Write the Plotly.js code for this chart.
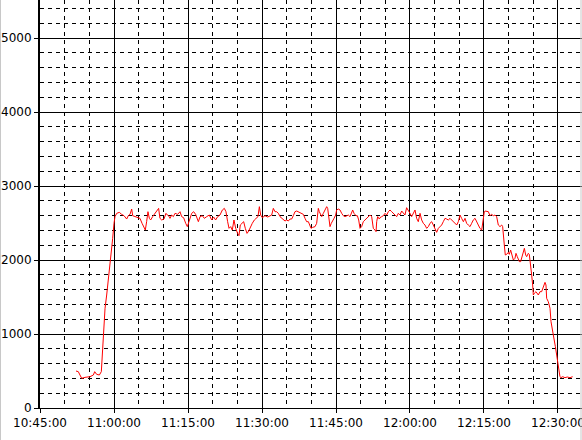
<!DOCTYPE html>
<html>
<head>
<meta charset="utf-8">
<script src="https://cdn.plot.ly/plotly-3.0.1.min.js"></script>
<style>html,body{margin:0;padding:0;background:#fff;}#chart{width:582px;height:440px;}</style>
</head>
<body>
<div id="chart"></div>
<script>
const day = '2000-01-01 ';
const times = [
'10:52:18','10:52:46','10:53:06','10:53:27','10:54:07','10:55:08','10:55:49','10:56:05','10:56:29','10:57:02',
'10:57:26','10:57:38','10:57:50','10:58:11','10:58:31','10:59:03','10:59:24','10:59:44','11:00:00','11:00:12',
'11:00:33','11:01:05','11:01:33','11:02:02','11:02:34','11:02:54','11:03:15','11:03:35','11:03:47','11:04:15',
'11:04:44','11:05:16','11:05:41','11:06:05','11:06:21','11:06:37','11:06:53','11:07:10','11:07:26','11:07:50',
'11:08:19','11:08:47','11:09:03','11:09:19','11:09:40','11:10:08','11:10:32','11:10:49','11:11:13',
'11:11:21','11:11:41','11:12:02','11:12:22','11:12:54','11:13:23','11:13:43','11:14:07','11:14:32','11:14:52',
'11:15:12','11:15:45','11:16:09','11:16:33','11:17:06','11:17:26','11:17:54','11:18:19','11:18:47','11:19:19',
'11:19:48','11:20:12','11:20:36','11:21:01','11:21:29','11:21:58','11:22:22','11:22:42','11:23:02','11:23:19',
'11:23:39','11:23:59','11:24:19','11:24:40','11:25:04','11:25:20','11:25:36','11:25:57','11:26:17','11:26:37',
'11:26:58','11:27:18','11:27:38','11:28:02','11:28:27','11:28:51','11:29:11','11:29:28','11:29:44','11:30:04',
'11:30:36','11:31:09','11:31:37','11:31:58','11:32:18','11:32:38',
'11:32:58','11:33:19','11:33:39','11:33:59','11:34:20','11:34:40','11:35:00','11:35:20','11:35:41','11:36:01',
'11:36:21','11:36:41','11:37:02','11:37:22','11:37:42','11:38:02','11:38:23','11:38:43','11:39:03','11:39:24',
'11:39:44','11:39:56','11:40:16','11:40:45','11:41:05','11:41:25','11:41:37','11:41:54','11:42:06','11:42:26',
'11:42:46','11:43:07','11:43:19','11:43:31','11:43:47','11:44:03','11:44:20','11:44:36','11:44:56','11:45:08',
'11:45:28','11:45:49','11:46:09','11:46:29','11:46:50','11:47:10','11:47:30','11:47:50','11:48:11','11:48:23',
'11:48:39','11:49:03','11:49:20','11:49:36','11:49:52','11:50:12','11:50:32','11:50:53','11:51:13','11:51:33',
'11:51:54','11:52:14','11:52:34','11:52:54','11:53:07','11:53:15','11:53:27','11:53:47',
'11:53:55','11:54:15','11:54:36','11:54:56','11:55:16','11:55:37','11:55:57','11:56:17','11:56:37','11:56:58',
'11:57:18','11:57:38','11:57:58','11:58:19','11:58:39','11:58:59','11:59:19','11:59:40','12:00:00','12:00:20',
'12:00:41','12:01:01','12:01:21','12:01:41','12:02:02','12:02:22','12:02:42','12:03:02','12:03:23','12:03:43',
'12:04:03','12:04:24','12:04:44','12:05:04','12:05:24','12:05:45','12:06:05','12:06:25','12:06:45','12:07:06',
'12:07:26','12:07:46','12:08:07','12:08:27','12:08:47','12:09:07','12:09:28','12:09:48','12:10:08','12:10:28',
'12:10:49','12:11:09','12:11:29','12:11:49','12:12:10','12:12:30','12:12:50','12:13:11','12:13:31','12:13:51',
'12:14:11','12:14:32','12:14:52','12:15:04',
'12:15:12','12:15:32','12:15:53','12:16:13','12:16:33','12:16:54','12:17:14','12:17:34','12:17:54','12:18:15',
'12:18:35','12:18:47','12:18:55','12:19:07','12:19:19','12:19:36','12:19:56','12:20:08','12:20:24','12:20:41',
'12:20:57','12:21:17','12:21:29','12:21:45','12:22:10','12:22:26','12:22:50','12:23:11','12:23:27','12:23:39',
'12:23:59','12:24:11','12:24:19','12:24:28','12:24:40','12:24:52','12:25:00','12:25:12','12:25:32','12:26:01',
'12:26:21','12:26:41','12:27:02','12:27:22','12:27:34','12:27:42','12:28:02','12:28:23','12:28:35','12:28:55',
'12:29:11','12:29:28','12:29:44','12:29:56','12:30:08','12:30:24','12:30:36','12:30:57','12:31:25','12:31:53',
'12:32:26','12:32:58'
];
const values = [
500,491,446,401,414,423,446,491,455,446,
491,761,1077,1347,1527,1842,2023,2293,2496,2586,
2631,2644,2617,2599,2554,2599,2617,2689,2599,2586,
2572,2563,2496,2428,2405,2518,2653,2563,2541,2586,
2631,2689,2698,2563,2541,2554,2631,2608,2586,
2563,2608,2586,2631,2617,2653,2586,2572,2496,2451,
2518,2631,2653,2617,2518,2586,2599,2563,2586,2608,
2541,2581,2541,2586,2608,2676,2698,2653,2518,2428,
2451,2405,2541,2428,2360,2329,2473,2496,2518,2428,
2360,2392,2451,2496,2541,2563,2586,2721,2608,2572,
2599,2581,2599,2608,2698,2653,
2653,2631,2586,2563,2541,2527,2541,2527,2554,2554,
2599,2653,2662,2653,2644,2631,2617,2563,2518,2518,
2451,2428,2441,2451,2496,2698,2653,2608,2586,2631,
2676,2721,2698,2563,2451,2496,2541,2563,2608,2676,
2689,2676,2631,2599,2586,2599,2608,2586,2631,2676,
2631,2599,2599,2541,2428,2451,2518,2541,2563,2586,
2608,2586,2428,2405,2383,2518,2586,2554,
2572,2586,2599,2631,2608,2653,2676,2653,2631,2599,
2586,2631,2608,2662,2631,2608,2707,2676,2631,2586,
2631,2676,2563,2518,2631,2541,2496,2473,2428,2451,
2496,2518,2473,2428,2374,2428,2451,2473,2518,2563,
2554,2541,2563,2541,2518,2496,2473,2518,2608,2563,
2518,2563,2496,2473,2451,2496,2541,2563,2518,2473,
2428,2405,2586,2653,
2662,2662,2653,2599,2617,2599,2608,2586,2473,2451,
2473,2451,2293,2203,2068,2077,2104,2077,2135,2068,
2000,2023,2090,2045,1978,1978,2068,2158,2068,2045,
2090,2077,2000,1932,1797,1662,1527,1550,1572,1527,
1572,1572,1640,1698,1662,1482,1437,1347,1167,1054,
941,829,716,626,536,423,410,423,410,419,
410,423
];
const xStart = '10:45:00';
const xEnd = '12:34:52';

const trace = {
  x: times.map(t => day + t),
  y: values,
  type: 'scatter',
  mode: 'lines',
  line: {color: '#ff0000', width: 1},
  hoverinfo: 'skip'
};

const gridDash = '4px,4px';
const layout = {
  width: 582, height: 440,
  margin: {l: 40, r: 0, t: 0, b: 32, pad: 0},
  paper_bgcolor: '#ffffff', plot_bgcolor: '#ffffff',
  showlegend: false,
  font: {family: 'DejaVu Sans', size: 12, color: '#000'},
  xaxis: {
    type: 'date',
    range: [day + xStart, day + xEnd],
    tick0: day + xStart, dtick: 900000, tickformat: '%H:%M:%S',
    ticklabeloverflow: 'allow',
    showgrid: true, gridcolor: '#000', gridwidth: 1,
    ticks: 'outside', ticklen: 4, tickcolor: '#000', tickwidth: 1,
    showline: true, linecolor: '#000', linewidth: 1, zeroline: false,
    minor: {dtick: 300000, showgrid: true, gridcolor: '#000', gridwidth: 1, griddash: gridDash}
  },
  yaxis: {
    range: [0, 5514], tick0: 0, dtick: 1000,
    ticklabeloverflow: 'allow',
    showgrid: true, gridcolor: '#000', gridwidth: 1,
    ticks: 'outside', ticklen: 4, tickcolor: '#000', tickwidth: 1,
    showline: true, linecolor: '#000', linewidth: 2, zeroline: false,
    minor: {dtick: 200, showgrid: true, gridcolor: '#000', gridwidth: 1, griddash: gridDash}
  },
  shapes: [
    {type: 'line', xref: 'paper', yref: 'paper', x0: -39.5/542, x1: -39.5/542, y0: -32/408, y1: 1, line: {color: '#c8c8c8', width: 1}},
    {type: 'line', xref: 'paper', yref: 'paper', x0: 541/542, x1: 541/542, y0: -32/408, y1: 1, line: {color: '#c8c8c8', width: 1}}
  ]
};

Plotly.newPlot('chart', [trace], layout, {staticPlot: true, displayModeBar: false});
</script>
</body>
</html>
